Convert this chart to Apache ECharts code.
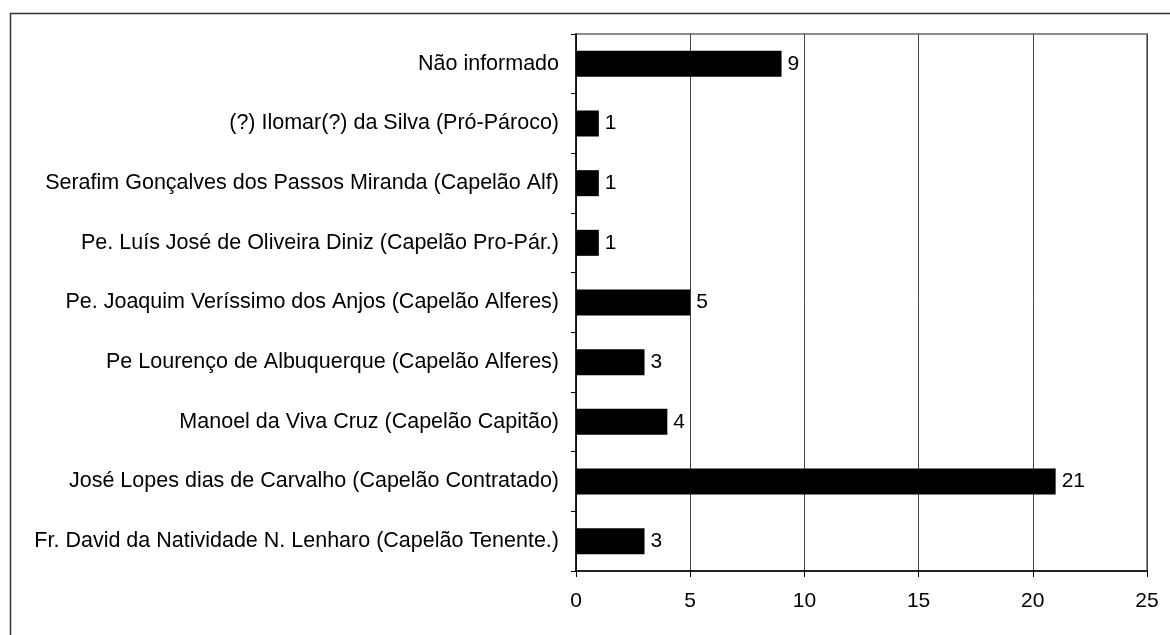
<!DOCTYPE html>
<html>
<head>
<meta charset="utf-8">
<script src="https://cdn.jsdelivr.net/npm/echarts@6/dist/echarts.min.js"></script>
<style>
    html, body { margin: 0; padding: 0; background: #fff; }
    #chart_stat { width: 1170px; height: 635px; }
</style>
</head>
<body>
<div id="chart_stat"></div>
<script>
    // categories bottom -> top
    var nomes = [
        'Fr. David da Natividade N. Lenharo (Capelão Tenente.)',
        'José Lopes dias de Carvalho (Capelão Contratado)',
        'Manoel da Viva Cruz (Capelão Capitão)',
        'Pe Lourenço de Albuquerque (Capelão Alferes)',
        'Pe. Joaquim Veríssimo dos Anjos (Capelão Alferes)',
        'Pe. Luís José de Oliveira Diniz (Capelão Pro-Pár.)',
        'Serafim Gonçalves dos Passos Miranda (Capelão Alf)',
        '(?) Ilomar(?) da Silva (Pró-Pároco)',
        'Não informado'
    ];
    var valores = [3, 21, 4, 3, 5, 1, 1, 1, 9];
    var eixoX = { min: 0, max: 25, interval: 5 };

    var chart = echarts.init(document.getElementById('chart_stat'));
    var fonte = 'Liberation Sans, Arial, sans-serif';

    var option = {
        animation: false,
        textStyle: { fontFamily: fonte },
        graphic: [
            {
                type: 'rect',
                shape: { x: 10.5, y: 13.5, width: 1170, height: 630 },
                style: { fill: 'none', stroke: '#333', lineWidth: 1.5 },
                silent: true
            }
        ],
        grid: {
            left: 576,
            right: 23,
            top: 34,
            bottom: 64,
            show: true,
            borderColor: '#8c8c8c',
            borderWidth: 2
        },
        xAxis: {
            type: 'value',
            min: eixoX.min,
            max: eixoX.max,
            interval: eixoX.interval,
            axisLine: { show: true, lineStyle: { color: '#000', width: 1.5 } },
            axisTick: { show: true, length: 6, lineStyle: { color: '#000' } },
            axisLabel: { color: '#000', fontSize: 21, margin: 20, fontFamily: fonte },
            splitLine: { show: true, lineStyle: { color: '#444', width: 1 } }
        },
        yAxis: {
            type: 'category',
            data: nomes,
            axisLine: { show: true, lineStyle: { color: '#000', width: 1.5 } },
            axisTick: { show: true, length: 5, alignWithLabel: false, lineStyle: { color: '#000' } },
            axisLabel: { color: '#000', fontSize: 21.5, margin: 17, fontFamily: fonte },
            splitLine: { show: false }
        },
        series: [
            {
                type: 'bar',
                data: valores,
                barWidth: 26,
                itemStyle: { color: '#000' },
                label: {
                    show: true,
                    position: 'right',
                    distance: 6,
                    color: '#000',
                    fontSize: 21,
                    fontFamily: fonte
                }
            }
        ]
    };
    chart.setOption(option);
</script>
</body>
</html>
